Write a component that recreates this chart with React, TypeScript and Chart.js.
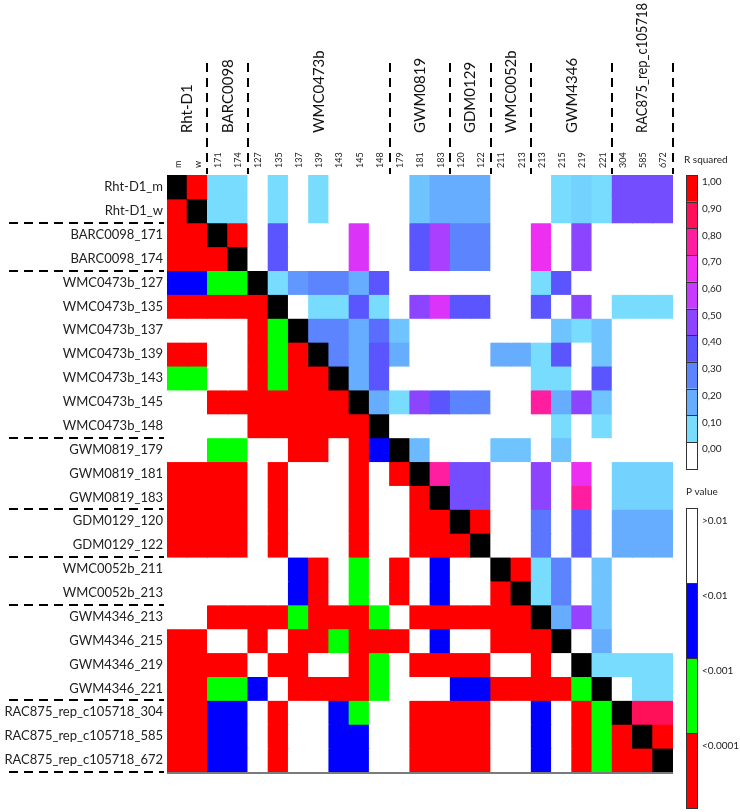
import React, { useEffect, useRef } from 'react';
import { Chart, registerables } from 'chart.js';

Chart.register(...registerables);

const rowLabels = [
  'Rht-D1_m', 'Rht-D1_w', 'BARC0098_171', 'BARC0098_174',
  'WMC0473b_127', 'WMC0473b_135', 'WMC0473b_137', 'WMC0473b_139', 'WMC0473b_143', 'WMC0473b_145', 'WMC0473b_148',
  'GWM0819_179', 'GWM0819_181', 'GWM0819_183', 'GDM0129_120', 'GDM0129_122',
  'WMC0052b_211', 'WMC0052b_213', 'GWM4346_213', 'GWM4346_215', 'GWM4346_219', 'GWM4346_221',
  'RAC875_rep_c105718_304', 'RAC875_rep_c105718_585', 'RAC875_rep_c105718_672',
];

const colLabels = ['m', 'w', '171', '174', '127', '135', '137', '139', '143', '145', '148', '179', '181', '183',
  '120', '122', '211', '213', '213', '215', '219', '221', '304', '585', '672'];

const groupNames = ['Rht-D1', 'BARC0098', 'WMC0473b', 'GWM0819', 'GDM0129', 'WMC0052b', 'GWM4346', 'RAC875_rep_c105718'];
const groupStart = [0, 2, 4, 11, 14, 16, 18, 22];
const groupEnd = [1, 3, 10, 13, 15, 17, 21, 24];

// R squared (upper triangle): row r holds values for columns r+1 .. 24
const rSquared = [
  [1.0, 0.1, 0.1, 0, 0.1, 0, 0.1, 0, 0, 0, 0, 0.15, 0.2, 0.2, 0.2, 0, 0, 0, 0.1, 0.12, 0.1, 0.45, 0.45, 0.45],
  [0.1, 0.1, 0, 0.1, 0, 0.1, 0, 0, 0, 0, 0.15, 0.2, 0.2, 0.2, 0, 0, 0, 0.1, 0.12, 0.1, 0.45, 0.45, 0.45],
  [1.0, 0, 0.4, 0, 0, 0, 0.65, 0, 0, 0.4, 0.55, 0.3, 0.3, 0, 0, 0.7, 0, 0.5, 0, 0, 0, 0],
  [0, 0.4, 0, 0, 0, 0.65, 0, 0, 0.4, 0.55, 0.3, 0.3, 0, 0, 0.7, 0, 0.5, 0, 0, 0, 0],
  [0.1, 0.25, 0.3, 0.3, 0.2, 0.4, 0, 0, 0, 0, 0, 0, 0, 0.1, 0.4, 0, 0, 0, 0, 0],
  [0, 0.1, 0.1, 0.4, 0.1, 0, 0.5, 0.65, 0.4, 0.4, 0, 0, 0.4, 0, 0.5, 0, 0.1, 0.1, 0.1],
  [0.3, 0.3, 0.2, 0.35, 0.15, 0, 0, 0, 0, 0, 0, 0, 0.15, 0.1, 0.15, 0, 0, 0],
  [0.3, 0.2, 0.4, 0.2, 0, 0, 0, 0, 0.2, 0.2, 0.1, 0.4, 0, 0.15, 0, 0, 0],
  [0.2, 0.4, 0, 0, 0, 0, 0, 0, 0, 0.1, 0.1, 0, 0.4, 0, 0, 0],
  [0.2, 0.1, 0.5, 0.4, 0.3, 0.3, 0, 0, 0.8, 0.2, 0.5, 0.15, 0, 0, 0],
  [0, 0, 0, 0, 0, 0, 0, 0, 0.1, 0, 0.1, 0, 0, 0],
  [0.17, 0, 0, 0, 0.15, 0.15, 0, 0.15, 0, 0, 0, 0, 0],
  [0.8, 0.45, 0.45, 0, 0, 0.5, 0, 0.7, 0, 0.12, 0.12, 0.12],
  [0.45, 0.45, 0, 0, 0.5, 0, 0.8, 0, 0.12, 0.12, 0.12],
  [1.0, 0, 0, 0.33, 0, 0.38, 0, 0.2, 0.2, 0.2],
  [0, 0, 0.33, 0, 0.38, 0, 0.2, 0.2, 0.2],
  [1.0, 0.1, 0.3, 0, 0.15, 0, 0, 0],
  [0.1, 0.3, 0, 0.15, 0, 0, 0],
  [0.2, 0.52, 0.15, 0, 0, 0],
  [0, 0.2, 0, 0, 0],
  [0.1, 0.1, 0.1, 0.1],
  [0, 0.1, 0.1],
  [0.9, 0.9],
  [1.0],
  [],
];

// P value class (lower triangle): row r holds columns 0 .. r-1
// '.' >0.01, 'b' <0.01, 'g' <0.001, 'r' <0.0001
const pClass = [
  '',
  'r',
  'rr',
  'rrr',
  'bbgg',
  'rrrrr',
  '....rg',
  'rr..rgr',
  'gg..rgrr',
  '..rrrrrrr',
  '....rrrrrr',
  '..gg..rr.rb',
  'rrrr.r...r.r',
  'rrrr.r...r..r',
  'rrrr.r...r..rr',
  'rrrr.r...r..rrr',
  '......br.g.r.b..',
  '......br.g.r.b..r',
  '..rrrrgrrrg.rrrrrr',
  'rr..r.rrgrrr.b..rrr',
  'rrrr.rr..rg.rrrr..r.',
  'rrggb.rrrrg...bbrrrrg',
  'rrbb.r..bg..rrrr..b.rg',
  'rrbb.r..bb..rrrr..b.rgr',
  'rrbb.r..bb..rrrr..b.rgrr',
];

const rsqTickLabels = ['1,00', '0,90', '0,80', '0,70', '0,60', '0,50', '0,40', '0,30', '0,20', '0,10', '0,00'];
const rsqTickValues = [1.0, 0.9, 0.8, 0.7, 0.6, 0.5, 0.4, 0.3, 0.2, 0.1, 0.0];
const pLegendLabels = ['>0.01', '<0.01', '<0.001', '<0.0001'];
const pLegendClasses = ['.', 'b', 'g', 'r'];

const rsqPalette = ['#FFFFFF', '#78DCFF', '#66ACFF', '#5C84FF', '#5A55FF', '#8C44FF', '#C83AFF', '#EE2EF0', '#FF1EA0', '#FF1058', '#FF0000'];
const pPalette: Record<string, string> = { '.': '#FFFFFF', b: '#0000FF', g: '#00FF00', r: '#FF0000' };

function hexToRgb(h: string) {
  const n = parseInt(h.slice(1), 16);
  return [(n >> 16) & 255, (n >> 8) & 255, n & 255];
}

function rsqColor(v: number) {
  const s = Math.max(0, Math.min(1, v)) * 10;
  const i = Math.min(9, Math.floor(s));
  const t = s - i;
  const a = hexToRgb(rsqPalette[i]);
  const b = hexToRgb(rsqPalette[i + 1]);
  const c = a.map((av, k) => Math.round(av + (b[k] - av) * t));
  return `rgb(${c[0]},${c[1]},${c[2]})`;
}

function cellColor(r: number, c: number) {
  if (r === c) return '#000000';
  if (c > r) return rsqColor(rSquared[r][c - r - 1]);
  return pPalette[pClass[r][c]];
}

const FONT = 'Lato, "Open Sans", sans-serif';

const decorPlugin = {
  id: 'ldDecor',
  afterDraw(chart: any) {
    const { ctx, chartArea: a, scales } = chart;
    const xs = scales.x;
    const ys = scales.y;
    const cw = xs.getPixelForValue(1) - xs.getPixelForValue(0);
    const colEdge = (i: number) => xs.getPixelForValue(0) - cw / 2 + i * cw;
    ctx.save();

    // bottom axis line
    ctx.strokeStyle = '#7a7a7a';
    ctx.lineWidth = 2;
    ctx.beginPath();
    ctx.moveTo(a.left, a.bottom + 1);
    ctx.lineTo(a.right, a.bottom + 1);
    ctx.stroke();

    // dashed group separators
    ctx.strokeStyle = '#000';
    ctx.lineWidth = 2;
    ctx.setLineDash([9, 6]);
    groupEnd.forEach((e) => {
      const x = Math.round(colEdge(e + 1));
      ctx.beginPath();
      ctx.moveTo(x, 63);
      ctx.lineTo(x, a.top - 1);
      ctx.stroke();
      const y = Math.round(ys.getPixelForValue(e + 1));
      ctx.beginPath();
      ctx.moveTo(9, y);
      ctx.lineTo(a.left - 3, y);
      ctx.stroke();
    });
    ctx.setLineDash([]);

    // column (allele) labels, centred on the category pixels of the x scale
    ctx.fillStyle = '#222';
    ctx.font = `9px ${FONT}`;
    ctx.textAlign = 'left';
    ctx.textBaseline = 'middle';
    colLabels.forEach((lab, i) => {
      ctx.save();
      ctx.translate(xs.getPixelForValue(i) + 0.5, a.top - 7);
      ctx.rotate(-Math.PI / 2);
      ctx.fillText(lab, 0, 0);
      ctx.restore();
    });

    // group names
    ctx.fillStyle = '#111';
    ctx.font = `15px ${FONT}`;
    groupNames.forEach((g, i) => {
      const cx = (colEdge(groupStart[i]) + colEdge(groupEnd[i] + 1)) / 2;
      ctx.save();
      ctx.translate(cx, 133);
      ctx.rotate(-Math.PI / 2);
      ctx.fillText(g, 0, 0, 130);
      ctx.restore();
    });

    // R squared legend
    const lx = a.right + 13;
    const bw = 11;
    const rh = 26.7;
    ctx.font = `10px ${FONT}`;
    ctx.fillStyle = '#222';
    ctx.textBaseline = 'middle';
    ctx.fillText('R squared', a.right + 11, a.top - 15);
    rsqTickValues.forEach((v, i) => {
      const y0 = a.top + i * rh;
      ctx.fillStyle = rsqColor(v);
      ctx.fillRect(lx, y0, bw, rh);
      ctx.strokeStyle = '#333';
      ctx.lineWidth = 1;
      ctx.strokeRect(lx + 0.5, Math.round(y0) + 0.5, bw, Math.round(rh));
      ctx.fillStyle = '#222';
      ctx.fillText(rsqTickLabels[i], lx + bw + 5, y0 + 7);
    });

    // P value legend
    const pTop = a.top + 333;
    const ph = 75;
    ctx.fillStyle = '#222';
    ctx.fillText('P value', a.right + 13, pTop - 16);
    pLegendClasses.forEach((k, i) => {
      const y0 = pTop + i * ph;
      ctx.fillStyle = pPalette[k];
      ctx.fillRect(lx, y0, bw, ph);
      ctx.strokeStyle = '#333';
      ctx.lineWidth = 1;
      ctx.strokeRect(lx + 0.5, y0 + 0.5, bw, ph);
      ctx.fillStyle = '#222';
      ctx.fillText(pLegendLabels[i], lx + bw + 5, y0 + 13);
    });

    ctx.restore();
  },
};

export default function App() {
  const ref = useRef<HTMLCanvasElement>(null);

  useEffect(() => {
    if (!ref.current) return;
    Chart.defaults.font.family = FONT;
    const datasets = rowLabels.map((_, r) => ({
      label: rowLabels[r],
      data: colLabels.map(() => [r, r + 1] as [number, number]),
      backgroundColor: colLabels.map((_, c) => cellColor(r, c)),
      borderWidth: 0,
      grouped: false,
      barPercentage: 1,
      categoryPercentage: 1,
      inflateAmount: 0.5,
    }));

    const chart = new Chart(ref.current, {
      type: 'bar',
      data: { labels: colLabels, datasets: datasets as any },
      options: {
        responsive: false,
        maintainAspectRatio: false,
        animation: false,
        events: [],
        layout: { padding: { left: 0, right: 67, top: 0, bottom: 40 } },
        plugins: { legend: { display: false }, tooltip: { enabled: false } },
        scales: {
          x: {
            type: 'category',
            position: 'top',
            offset: true,
            grid: { display: false, drawTicks: false },
            border: { display: false },
            ticks: { display: false },
            afterFit: (s: any) => { s.height = 175; },
          },
          y: {
            type: 'linear',
            min: 0,
            max: 25,
            reverse: true,
            grid: { display: false, drawTicks: false },
            border: { display: false },
            afterBuildTicks: (s: any) => {
              s.ticks = rowLabels.map((_, i) => ({ value: i + 0.5 }));
            },
            ticks: {
              autoSkip: false,
              padding: 4,
              color: '#222',
              font: { size: 13, family: FONT },
              callback: (v: any) => rowLabels[Math.floor(Number(v))],
            },
            afterFit: (s: any) => { s.width = 167; },
          },
        },
      },
      plugins: [decorPlugin],
    });
    return () => chart.destroy();
  }, []);

  return (
    <div style={{ position: 'fixed', left: 0, top: 0, width: 740, height: 812, background: '#fff' }}>
      <canvas ref={ref} width={740} height={812} style={{ width: 740, height: 812, display: 'block' }} />
    </div>
  );
}
